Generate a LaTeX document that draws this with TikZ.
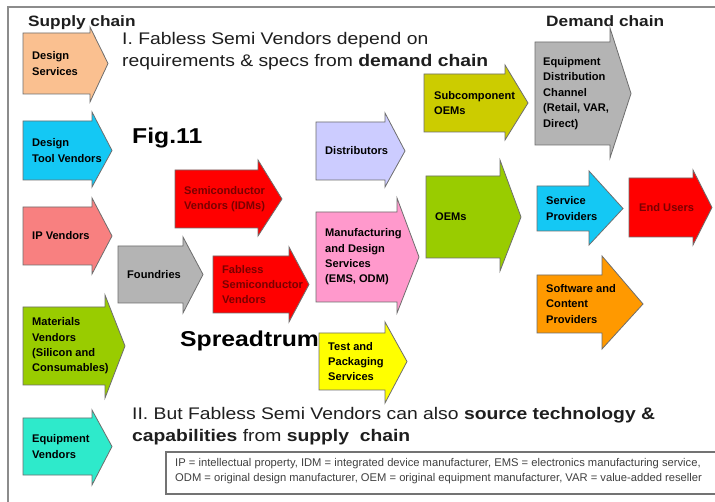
\documentclass[tikz,border=0pt]{standalone}
\usepackage{fontspec}
\setmainfont{Liberation Sans}[FakeStretch=1.15]
\newfontfamily\lblfont{Liberation Sans}
\definecolor{cDS}{HTML}{FAC090}
\definecolor{cDT}{HTML}{14C8F4}
\definecolor{cIP}{HTML}{F88080}
\definecolor{cMV}{HTML}{99CC00}
\definecolor{cEV}{HTML}{2EEACB}
\definecolor{cRed}{HTML}{FF0000}
\definecolor{cGray}{HTML}{B4B4B4}
\definecolor{cDI}{HTML}{CCCCFF}
\definecolor{cMD}{HTML}{FF99CC}
\definecolor{cTP}{HTML}{FFFF00}
\definecolor{cSO}{HTML}{CCCC00}
\definecolor{cSC}{HTML}{FF9900}
\definecolor{dred}{HTML}{7A0000}
\definecolor{txt}{HTML}{1E1E1E}
\definecolor{edge}{HTML}{6E6E6E}
\newcommand\mychev[8]{%
  \filldraw[fill=#8,draw=edge,line width=0.8pt,line join=miter]
    (#1,#2) -- (#4,#2) -- (#4,#5) -- (#7,{(#2+#3)/2}) -- (#4,#6)
    -- (#4,#3) -- (#1,#3) -- cycle;}
\begin{document}
\begin{tikzpicture}[x=1pt,y=-1pt,
  lbl/.style={anchor=west,align=left,inner sep=0pt,
    font=\lblfont\fontsize{11.1}{15.4}\selectfont\bfseries,text=black},
  big/.style={anchor=base west,inner sep=0pt,
    font=\fontsize{16.8}{20}\selectfont,text=txt},
  chainhead/.style={anchor=base west,inner sep=0pt,
    font=\fontsize{15}{18}\selectfont\bfseries,text=txt},
  figlbl/.style={anchor=base west,inner sep=0pt,
    font=\fontsize{21.5}{24}\selectfont\bfseries,text=black},
  legendtxt/.style={anchor=base west,inner sep=0pt,
    font=\lblfont\fontsize{11.2}{12}\selectfont,text=black!75},
  frameline/.style={draw=black!45,line width=2pt},
  legendbox/.style={draw=black!55,line width=1.6pt}]
\clip (0,0) rectangle (715,502);
\fill[white] (0,0) rectangle (715,502);
\draw[frameline] (8,7) rectangle (740,530);

% supply chain arrows
\mychev{23}{33}{94}{90}{27}{102}{108}{cDS}
\mychev{23}{121}{180}{92}{112}{187}{112}{cDT}
\mychev{23}{207}{265}{92}{198}{274}{112}{cIP}
\mychev{23}{307}{385}{105}{295}{398}{125}{cMV}
\mychev{23}{418}{475}{92}{410}{485}{112}{cEV}
% middle
\mychev{175}{170}{228}{258}{160}{236}{282}{cRed}
\mychev{118}{246}{303}{183}{237}{313}{203}{cGray}
\mychev{213}{256}{313}{289}{247}{322}{309}{cRed}
\mychev{316}{122}{180}{385}{113}{187}{405}{cDI}
\mychev{316}{212}{302}{397}{198}{313}{419}{cMD}
\mychev{319}{333}{390}{385}{322}{403}{407}{cTP}
% demand chain
\mychev{424}{74}{132}{505}{65}{140}{528}{cSO}
\mychev{535}{42}{145}{610}{28}{158}{631}{cGray}
\mychev{426}{176}{258}{500}{160}{271}{521}{cMV}
\mychev{537}{186}{231}{589}{171}{245}{623}{cDT}
\mychev{629}{178}{237}{693}{170}{245}{712}{cRed}
\mychev{537}{275}{333}{602}{256}{349}{643}{cSC}

% labels
\node[lbl] (ds) at (32,63.5) {Design\\Services};
\node[lbl] (dt) at (32,150.5) {Design\\Tool Vendors};
\node[lbl] (ip) at (32,236) {IP Vendors};
\node[lbl] (mv) at (32,346) {Materials\\Vendors\\(Silicon and\\Consumables)};
\node[lbl] (ev) at (32,446.5) {Equipment\\Vendors};
\node[lbl,text=dred] (sv) at (184,199) {Semiconductor\\Vendors (IDMs)};
\node[lbl] (fo) at (127,274.5) {Foundries};
\node[lbl,text=dred] (fs) at (222,284.5) {Fabless\\Semiconductor\\Vendors};
\node[lbl] (di) at (325,151) {Distributors};
\node[lbl] (md) at (325,257) {Manufacturing\\and Design\\Services\\(EMS, ODM)};
\node[lbl] (tp) at (328,361.5) {Test and\\Packaging\\Services};
\node[lbl] (so) at (434,103) {Subcomponent\\OEMs};
\node[lbl] (ed) at (543,93.5) {Equipment\\Distribution\\Channel\\(Retail, VAR,\\Direct)};
\node[lbl] (oe) at (435,217) {OEMs};
\node[lbl] (sp) at (546,208.5) {Service\\Providers};
\node[lbl,text=dred] (eu) at (639,207.5) {End Users};
\node[lbl] (sw) at (546,304) {Software and\\Content\\Providers};

% headings and texts
\node[chainhead] (supply) at (28,27) {Supply chain};
\node[chainhead] (demand) at (546,27) {Demand chain};
\node[big] (t1) at (122,45) {I. Fabless Semi Vendors depend on};
\node[big] (t2) at (122,67) {requirements \& specs from \textbf{demand chain}};
\node[figlbl] (fig) at (132,144) {Fig.11};
\node[figlbl] (spr) at (180,347) {Spreadtrum};
\node[big] (t3) at (132,420) {II. But Fabless Semi Vendors can also \textbf{source technology \&}};
\node[big] (t4) at (132,442) {\textbf{capabilities} from \textbf{supply\ \ chain}};

% legend
\draw[legendbox] (166,452) rectangle (740,494);
\node[legendtxt] (lg1) at (175,467) {IP = intellectual property, IDM = integrated device manufacturer, EMS = electronics manufacturing service,};
\node[legendtxt] (lg2) at (175,482) {ODM = original design manufacturer, OEM = original equipment manufacturer, VAR = value-added reseller};
\end{tikzpicture}
\end{document}
